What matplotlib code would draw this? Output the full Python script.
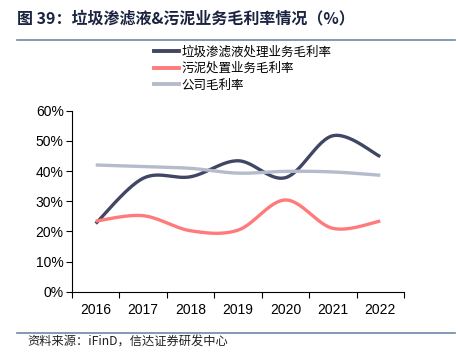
import numpy as np
import matplotlib
matplotlib.use("Agg")
import matplotlib.pyplot as plt
from matplotlib.lines import Line2D

plt.rcParams['font.family'] = ['Liberation Sans', 'Noto Sans CJK SC', 'DejaVu Sans']

years = ['2016', '2017', '2018', '2019', '2020', '2021', '2022']
leachate = [22.6, 37.6, 38.1, 43.4, 37.8, 51.7, 44.8]
sludge = [23.4, 25.2, 20.2, 20.4, 30.4, 21.0, 23.4]
company = [42.0, 41.5, 40.9, 39.3, 39.9, 39.7, 38.6]

series_names = ['垃圾渗滤液处理业务毛利率', '污泥处置业务毛利率', '公司毛利率']
colors = ['#404663', '#FF7B7B', '#B3BBCC']


def smooth(x, y, n=30):
    # Catmull-Rom style smoothing, like Excel's smoothed lines
    x = np.asarray(x, float)
    y = np.asarray(y, float)
    px = np.concatenate([[x[0]], x, [x[-1]]])
    py = np.concatenate([[y[0]], y, [y[-1]]])
    xs, ys = [], []
    t = np.linspace(0, 1, n)
    for i in range(1, len(px) - 2):
        p0 = np.array([px[i], py[i]])
        p3 = np.array([px[i + 1], py[i + 1]])
        c1 = p0 + (np.array([px[i + 1], py[i + 1]]) - np.array([px[i - 1], py[i - 1]])) / 6
        c2 = p3 - (np.array([px[i + 2], py[i + 2]]) - np.array([px[i], py[i]])) / 6
        b = ((1 - t) ** 3)[:, None] * p0 + (3 * (1 - t) ** 2 * t)[:, None] * c1 \
            + (3 * (1 - t) * t ** 2)[:, None] * c2 + (t ** 3)[:, None] * p3
        xs.append(b[:, 0])
        ys.append(b[:, 1])
    return np.concatenate(xs), np.concatenate(ys)


fig = plt.figure(figsize=(4.59, 3.56), dpi=100)
ax = fig.add_axes([72 / 459, 1 - 291.7 / 356, (404 - 72) / 459, (291.7 - 110.7) / 356])

xpos = np.arange(len(years))
for vals, c in zip([leachate, sludge, company], colors):
    sx, sy = smooth(xpos, vals)
    ax.plot(sx, sy, color=c, lw=2.4, solid_capstyle='butt')

ax.set_xlim(-0.5, len(years) - 0.5)
ax.set_ylim(0, 60)
ax.set_yticks(range(0, 61, 10))
ax.set_yticklabels([f'{v}%' for v in range(0, 61, 10)], fontsize=10)
ax.set_xticks(xpos)
ax.set_xticklabels(years, fontsize=10)
ax.set_xticks(np.arange(-0.5, len(years), 1), minor=True)
ax.tick_params(axis='x', which='major', length=0, pad=8)
ax.tick_params(axis='x', which='minor', length=4, width=0.8, direction='out')
ax.tick_params(axis='y', length=4, width=0.8, pad=2)
for s in ['top', 'right']:
    ax.spines[s].set_visible(False)
for s in ['left', 'bottom']:
    ax.spines[s].set_linewidth(0.8)

handles = [Line2D([], [], color=c, lw=2.8) for c in colors]
fig.legend(handles, series_names, loc='upper left', bbox_to_anchor=(143 / 459, 1 - 34 / 356),
           frameon=False, handlelength=2.0, handletextpad=0.2,
           labelspacing=0.3, prop={'family': ['Noto Sans CJK SC'], 'size': 9})

fig.text(17 / 459, 1 - 19 / 356, '图 39：垃圾渗滤液&污泥业务毛利率情况（%）', fontsize=11.5,
         fontweight='bold', color='#1A2440', va='center', family=['Noto Sans CJK SC'])
fig.add_artist(Line2D([17 / 459, 455 / 459], [1 - 40 / 356] * 2, color='#6F86A8', lw=1.2))
fig.add_artist(Line2D([17 / 459, 455 / 459], [1 - 333 / 356] * 2, color='#6F86A8', lw=1.2))
fig.text(27 / 459, 1 - 342 / 356, '资料来源：iFinD，信达证券研发中心', fontsize=8.8,
         style='italic', color='#222222', va='center', family=['Noto Sans CJK SC'])

fig.savefig('out.png', dpi=100)
